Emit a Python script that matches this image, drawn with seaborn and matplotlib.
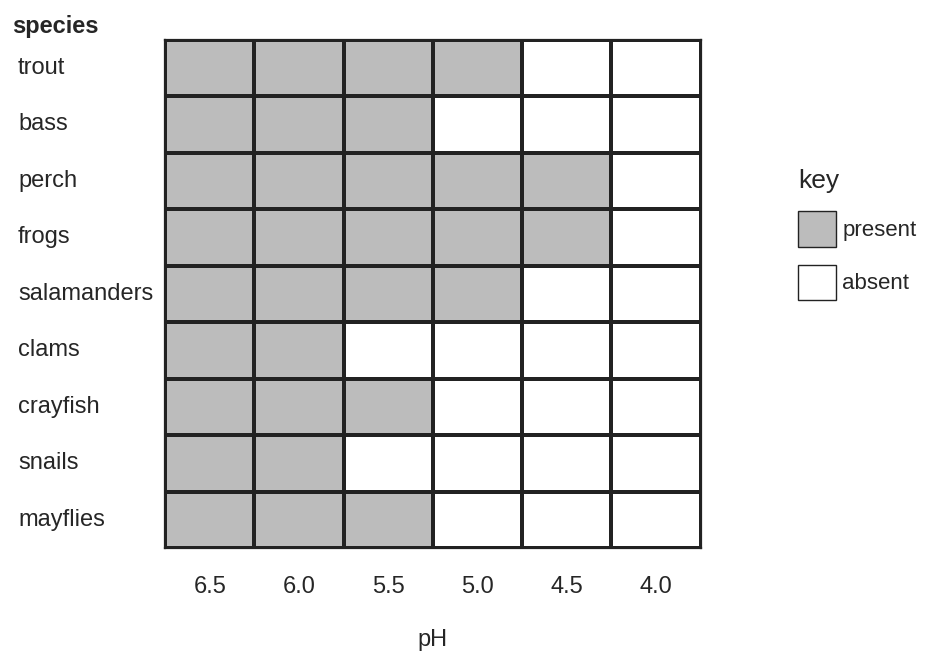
import numpy as np
import pandas as pd
import seaborn as sns
import matplotlib.pyplot as plt
from matplotlib.colors import ListedColormap
from matplotlib.patches import Patch

# 数据
species = ['trout', 'bass', 'perch', 'frogs', 'salamanders',
           'clams', 'crayfish', 'snails', 'mayflies']
ph_levels = ['6.5', '6.0', '5.5', '5.0', '4.5', '4.0']
# 每个物种出现的pH列数（从6.5开始连续）
n_present = [4, 3, 5, 5, 4, 2, 3, 2, 3]

grid = pd.DataFrame(
    [[1 if j < n else 0 for j in range(len(ph_levels))] for n in n_present],
    index=species, columns=ph_levels)

sns.set_style('white')
plt.rcParams['font.family'] = ['Liberation Sans', 'DejaVu Sans']

grey = '#bcbcbc'
fig = plt.figure(figsize=(9.28, 6.59), dpi=100)
ax = fig.add_axes([0.178, 0.168, 0.577, 0.772])
sns.heatmap(grid, ax=ax, cmap=ListedColormap(['white', grey]), vmin=0, vmax=1,
            cbar=False, linewidths=1.6, linecolor='#222222')

for s in ax.spines.values():
    s.set_visible(True)
    s.set_color('#222222')
    s.set_linewidth(1.6)

ax.tick_params(length=0)
ax.tick_params(axis='y', pad=106, labelsize=17)
ax.tick_params(axis='x', pad=20, labelsize=17)
for lab in ax.get_yticklabels():
    lab.set_ha('left')
    lab.set_rotation(0)
ax.set_xlabel('pH', fontsize=17, labelpad=22)
ax.set_ylabel('')
fig.text(0.013, 0.96, 'species', fontsize=17, fontweight='bold', va='center')

handles = [Patch(facecolor=grey, edgecolor='#222222', label='present'),
           Patch(facecolor='white', edgecolor='#222222', label='absent')]
leg = fig.legend(handles=handles, title='key', loc='upper left',
                 bbox_to_anchor=(0.855, 0.75), frameon=False, fontsize=16,
                 title_fontsize=19, handlelength=1.7, handleheight=2.1,
                 handletextpad=0.3, labelspacing=0.8, borderaxespad=0,
                 borderpad=0.2)
leg._legend_box.align = 'left'

plt.savefig('out.png', dpi=100)
